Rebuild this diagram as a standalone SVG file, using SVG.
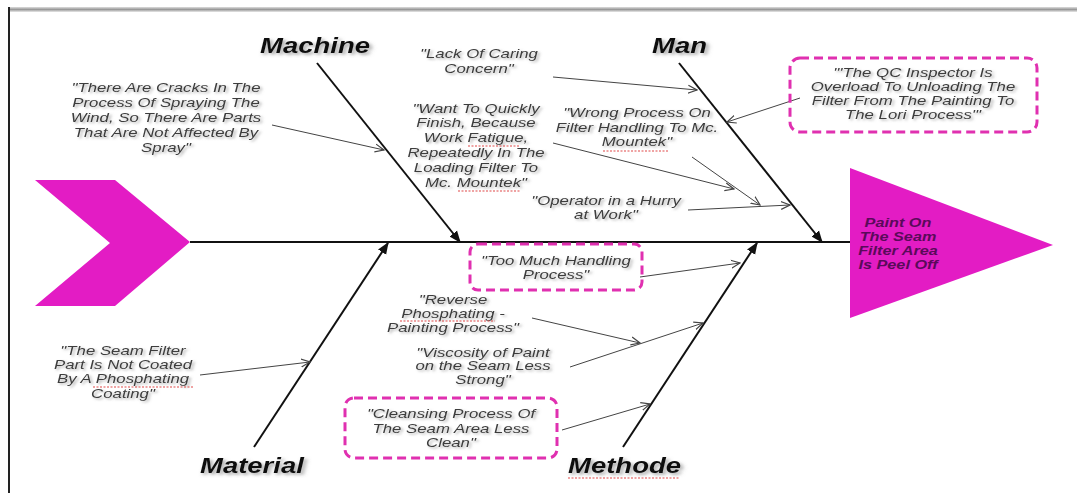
<svg xmlns="http://www.w3.org/2000/svg" width="1077" height="493" viewBox="0 0 1077 493">
<style>
.t{font-family:"Liberation Sans",Arial,sans-serif;font-size:12px;font-style:italic;fill:#3c3c3c;text-anchor:middle;filter:url(#sh1)}
.lbl{font-family:"Liberation Sans",Arial,sans-serif;font-size:22px;font-style:italic;font-weight:bold;fill:#111;filter:url(#sh2)}
.head{font-family:"Liberation Sans",Arial,sans-serif;font-size:12.5px;font-style:italic;font-weight:bold;fill:#5a0a5a;text-anchor:middle}
.bone{stroke:#111;stroke-width:2;fill:none;marker-end:url(#big)}
.thin{stroke:#444;stroke-width:1;fill:none;marker-end:url(#small)}
.box{fill:none;stroke:#e030b0;stroke-width:3;stroke-dasharray:9 5}
.sq{stroke:#e04848;stroke-width:1.2;fill:none;stroke-dasharray:2 1.5}
</style>
<defs>
<filter id="sh1" x="-10%" y="-20%" width="130%" height="160%"><feDropShadow dx="1.5" dy="1.5" stdDeviation="1" flood-color="#777" flood-opacity="0.6"/></filter>
<filter id="sh2" x="-10%" y="-20%" width="130%" height="160%"><feDropShadow dx="2" dy="2" stdDeviation="1.5" flood-color="#666" flood-opacity="0.6"/></filter>
<linearGradient id="tg" x1="0" y1="0" x2="0" y2="1"><stop offset="0" stop-color="#ddd"/><stop offset="0.5" stop-color="#999"/><stop offset="1" stop-color="#e8e8e8"/></linearGradient>
<marker id="big" viewBox="0 0 10 10" refX="9" refY="5" markerWidth="6" markerHeight="6" orient="auto" markerUnits="strokeWidth"><path d="M0,1 L10,5 L0,9 z" fill="#111"/></marker>
<marker id="small" viewBox="0 0 10 10" refX="9" refY="5" markerWidth="10" markerHeight="10" orient="auto" markerUnits="strokeWidth"><path d="M0,1 L9,5 L0,9" fill="none" stroke="#444" stroke-width="1.2"/></marker>
</defs>
<rect width="1077" height="493" fill="#fff"/>
<g id="frame">
<rect x="9" y="7" width="1068" height="5" fill="url(#tg)"/>
<line x1="9" y1="7" x2="9" y2="493" stroke="#222" stroke-width="2"/>
</g>
<g id="tail"><polygon points="35,180 115,180 190,242 115,306 35,306 110,243" fill="#e31cc4"/></g>
<g id="head">
<polygon points="850,168 1053,245 850,318" fill="#e31cc4"/>
<text class="head" transform="translate(898 0) scale(1.3 1)"><tspan x="0" y="227">Paint On</tspan><tspan x="0" y="241">The Seam</tspan><tspan x="0" y="255">Filter Area</tspan><tspan x="0" y="269">Is Peel Off</tspan></text>
</g>
<g id="connectors">
<line x1="190" y1="242" x2="850" y2="242" stroke="#111" stroke-width="2"/>
<line class="bone" x1="317" y1="63" x2="460" y2="242"/>
<line class="bone" x1="679" y1="63" x2="822" y2="242"/>
<line class="bone" x1="254" y1="447" x2="388" y2="243"/>
<line class="bone" x1="623" y1="447" x2="757" y2="243"/>
<line class="thin" x1="272" y1="125" x2="384" y2="150"/>
<line class="thin" x1="553" y1="77" x2="697" y2="90"/>
<line class="thin" x1="800" y1="98" x2="727" y2="122"/>
<line class="thin" x1="553" y1="143" x2="734" y2="189"/>
<line class="thin" x1="692" y1="157" x2="760" y2="205"/>
<line class="thin" x1="688" y1="210" x2="790" y2="205"/>
<line class="thin" x1="640" y1="277" x2="740" y2="263"/>
<line class="thin" x1="532" y1="318" x2="640" y2="343"/>
<line class="thin" x1="570" y1="367" x2="703" y2="323"/>
<line class="thin" x1="562" y1="430" x2="650" y2="404"/>
<line class="thin" x1="200" y1="375" x2="310" y2="362"/>
</g>
<g id="machine"><text class="lbl" transform="translate(260 0) scale(1.25 1)" x="0" y="53">Machine</text></g>
<g id="man"><text class="lbl" transform="translate(652 0) scale(1.25 1)" x="0" y="53">Man</text></g>
<g id="material"><text class="lbl" transform="translate(200 0) scale(1.25 1)" x="0" y="473">Material</text></g>
<g id="methode"><text class="lbl" transform="translate(568 0) scale(1.25 1)" x="0" y="473">Methode</text><path class="sq" d="M568,478 L680,478"/></g>
<g id="cracks"><text class="t" transform="translate(166 0) scale(1.4 1)"><tspan x="0" y="92">"There Are Cracks In The</tspan><tspan x="0" y="107">Process Of Spraying The</tspan><tspan x="0" y="122">Wind, So There Are Parts</tspan><tspan x="0" y="137">That Are Not Affected By</tspan><tspan x="0" y="152">Spray"</tspan></text></g>
<g id="lack"><text class="t" transform="translate(479 0) scale(1.4 1)"><tspan x="0" y="58">"Lack Of Caring</tspan><tspan x="0" y="73">Concern"</tspan></text></g>
<g id="want"><text class="t" transform="translate(476 0) scale(1.4 1)"><tspan x="0" y="113">"Want To Quickly</tspan><tspan x="0" y="127">Finish, Because</tspan><tspan x="0" y="142">Work Fatigue,</tspan><tspan x="0" y="157">Repeatedly In The</tspan><tspan x="0" y="172">Loading Filter To</tspan><tspan x="0" y="187">Mc. Mountek"</tspan></text>
<path class="sq" d="M468,146 L520,146 M458,191 L520,191"/></g>
<g id="wrong"><text class="t" transform="translate(637 0) scale(1.4 1)"><tspan x="0" y="117">"Wrong Process On</tspan><tspan x="0" y="132">Filter Handling To Mc.</tspan><tspan x="0" y="146">Mountek"</tspan></text>
<path class="sq" d="M603,151 L668,151"/></g>
<g id="operator"><text class="t" transform="translate(606 0) scale(1.4 1)"><tspan x="0" y="205">"Operator in a Hurry</tspan><tspan x="0" y="219">at Work"</tspan></text></g>
<g id="qc"><rect class="box" x="790" y="58" width="247" height="74" rx="10"/>
<text class="t" transform="translate(913 0) scale(1.4 1)"><tspan x="0" y="77">"'The QC Inspector Is</tspan><tspan x="0" y="91">Overload To Unloading The</tspan><tspan x="0" y="105">Filter From The Painting To</tspan><tspan x="0" y="119">The Lori Process'"</tspan></text></g>
<g id="toomuch"><rect class="box" x="470" y="244" width="172" height="46" rx="8"/>
<text class="t" transform="translate(556 0) scale(1.4 1)"><tspan x="0" y="265">"Too Much Handling</tspan><tspan x="0" y="279">Process"</tspan></text></g>
<g id="reverse"><text class="t" transform="translate(453 0) scale(1.4 1)"><tspan x="0" y="304">"Reverse</tspan><tspan x="0" y="318">Phosphating -</tspan><tspan x="0" y="332">Painting Process"</tspan></text>
<path class="sq" d="M400,321 L495,321"/></g>
<g id="viscosity"><text class="t" transform="translate(483 0) scale(1.4 1)"><tspan x="0" y="357">"Viscosity of Paint</tspan><tspan x="0" y="370">on the Seam Less</tspan><tspan x="0" y="384">Strong"</tspan></text></g>
<g id="cleansing"><rect class="box" x="345" y="398" width="212" height="60" rx="9"/>
<text class="t" transform="translate(451 0) scale(1.4 1)"><tspan x="0" y="418">"Cleansing Process Of</tspan><tspan x="0" y="433">The Seam Area Less</tspan><tspan x="0" y="447">Clean"</tspan></text></g>
<g id="seamfilter"><text class="t" transform="translate(123 0) scale(1.4 1)"><tspan x="0" y="355">"The Seam Filter</tspan><tspan x="0" y="369">Part Is Not Coated</tspan><tspan x="0" y="383">By A Phosphating</tspan><tspan x="0" y="398">Coating"</tspan></text>
<path class="sq" d="M93,387 L193,387"/></g>
</svg>
